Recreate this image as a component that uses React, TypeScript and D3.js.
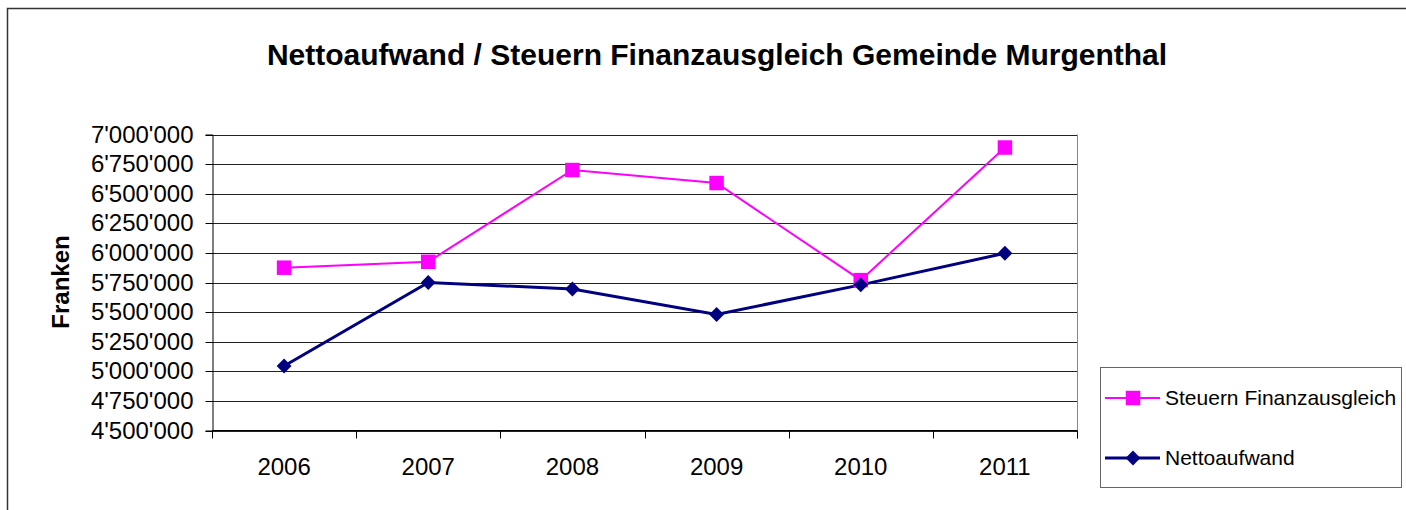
import React, { useEffect, useRef } from 'react';
import * as d3 from 'd3';

const years = ['2006', '2007', '2008', '2009', '2010', '2011'];
const steuern = [5875000, 5925000, 6700000, 6590000, 5770000, 6890000];
const netto = [5045000, 5750000, 5695000, 5480000, 5730000, 5997000];
const yTicks = [4500000, 4750000, 5000000, 5250000, 5500000, 5750000, 6000000, 6250000, 6500000, 6750000, 7000000];

const W = 1406;
const H = 510;

const App: React.FC = () => {
  const svgRef = useRef<SVGSVGElement>(null);

  useEffect(() => {
    if (!svgRef.current) return;
    const svg = d3.select(svgRef.current);
    svg.selectAll('*').remove();

    const font = "'Liberation Sans', Arial, sans-serif";
    const left = 212, right = 1077, top = 134.5, bottom = 430.5;

    // outer frame (right and bottom edges fall outside the picture)
    svg.append('rect')
      .attr('x', 7.5).attr('y', 8.5)
      .attr('width', W + 20).attr('height', H)
      .attr('fill', 'white').attr('stroke', '#333').attr('stroke-width', 1.5);

    svg.append('text')
      .attr('x', 717).attr('y', 65)
      .attr('text-anchor', 'middle')
      .attr('font-family', font).attr('font-weight', 'bold').attr('font-size', 30)
      .text('Nettoaufwand / Steuern Finanzausgleich Gemeinde Murgenthal');

    const x = d3.scaleBand<string>().domain(years).range([left, right]);
    const y = d3.scaleLinear().domain([4500000, 7000000]).range([bottom, top]);

    const fmt = (v: number) => d3.format(',')(v).replace(/,/g, "'");

    // gridlines
    svg.append('g').selectAll('line').data(yTicks).enter().append('line')
      .attr('x1', left).attr('x2', right)
      .attr('y1', d => Math.round(y(d)) + 0.5).attr('y2', d => Math.round(y(d)) + 0.5)
      .attr('stroke', '#222').attr('stroke-width', 1);

    // right border of plot area
    svg.append('line')
      .attr('x1', right + 0.5).attr('x2', right + 0.5)
      .attr('y1', top).attr('y2', bottom + 8)
      .attr('stroke', '#888');

    // y axis
    const yAxis = d3.axisLeft(y).tickValues(yTicks).tickFormat(d => fmt(d as number)).tickSize(7).tickPadding(12);
    const gy = svg.append('g').attr('transform', `translate(${left + 0.5},0)`).call(yAxis);
    gy.select('.domain').attr('stroke', '#000');
    gy.selectAll('.tick line').attr('stroke', '#000');
    gy.selectAll('.tick').attr('transform', d => `translate(0,${Math.round(y(d as number)) + 0.5})`);
    gy.selectAll('text').attr('font-family', font).attr('font-size', 24).attr('fill', '#000');

    // x axis with ticks between categories
    svg.append('line')
      .attr('x1', left).attr('x2', right)
      .attr('y1', bottom).attr('y2', bottom)
      .attr('stroke', '#000');
    const bounds = years.map(yr => x(yr)!).concat([right]);
    svg.append('g').selectAll('line').data(bounds).enter().append('line')
      .attr('x1', d => Math.round(d) + 0.5).attr('x2', d => Math.round(d) + 0.5)
      .attr('y1', bottom).attr('y2', bottom + 8)
      .attr('stroke', '#000');
    svg.append('g').selectAll('text').data(years).enter().append('text')
      .attr('x', d => x(d)! + x.bandwidth() / 2)
      .attr('y', 475)
      .attr('text-anchor', 'middle')
      .attr('font-family', font).attr('font-size', 24)
      .text(d => d);

    svg.append('text')
      .attr('transform', 'translate(69,282) rotate(-90)')
      .attr('text-anchor', 'middle')
      .attr('font-family', font).attr('font-weight', 'bold').attr('font-size', 24)
      .text('Franken');

    const cx = (i: number) => x(years[i])! + x.bandwidth() / 2;
    const line = d3.line<number>().x((_d, i) => cx(i)).y(d => y(d));

    const series = [
      { name: 'Steuern Finanzausgleich', values: steuern, color: '#FF00FF', width: 2, rot: 0, size: 210 },
      { name: 'Nettoaufwand', values: netto, color: '#000080', width: 3, rot: 45, size: 110 },
    ];

    series.forEach(s => {
      svg.append('path')
        .attr('d', line(s.values)!)
        .attr('fill', 'none').attr('stroke', s.color).attr('stroke-width', s.width);
    });
    series.forEach(s => {
      svg.append('g').selectAll('path').data(s.values).enter().append('path')
        .attr('d', d3.symbol().type(d3.symbolSquare).size(s.size)()!)
        .attr('transform', (d, i) => `translate(${cx(i)},${y(d)}) rotate(${s.rot})`)
        .attr('fill', s.color);
    });

    // legend
    svg.append('rect')
      .attr('x', 1100.5).attr('y', 367.5)
      .attr('width', 301).attr('height', 120)
      .attr('fill', 'white').attr('stroke', '#666').attr('stroke-width', 1);
    series.forEach((s, i) => {
      const ly = 398 + i * 60;
      const g = svg.append('g');
      g.append('line')
        .attr('x1', 1105).attr('x2', 1160).attr('y1', ly).attr('y2', ly)
        .attr('stroke', s.color).attr('stroke-width', s.width);
      g.append('path')
        .attr('d', d3.symbol().type(d3.symbolSquare).size(s.size)()!)
        .attr('transform', `translate(1133,${ly}) rotate(${s.rot})`)
        .attr('fill', s.color);
      g.append('text')
        .attr('x', 1165).attr('y', ly + 7)
        .attr('font-family', font).attr('font-size', 21)
        .text(s.name);
    });
  }, []);

  return (
    <svg ref={svgRef} width={W} height={H}
      style={{ position: 'absolute', left: 0, top: 0, background: 'white' }} />
  );
};

export default App;
